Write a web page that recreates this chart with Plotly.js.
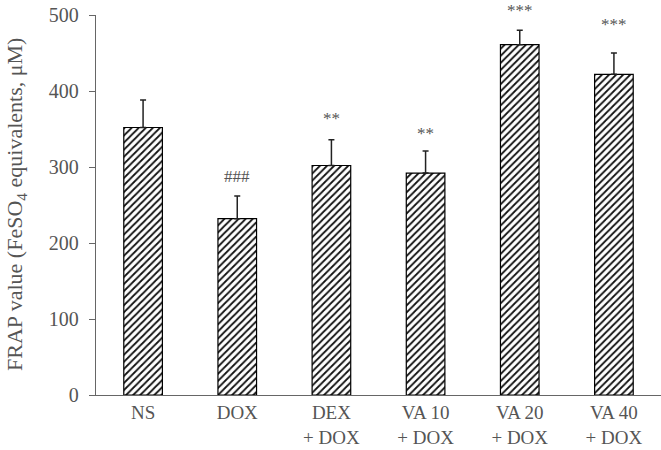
<!DOCTYPE html>
<html><head><meta charset="utf-8">
<script src="https://cdn.plot.ly/plotly-3.0.1.min.js"></script>
<style>html,body{margin:0;padding:0;background:#fff}</style>
</head><body><div id="chart" style="width:661px;height:450px"></div>
<script>
const categories = ["NS", "DOX", "DEX<br>+ DOX", "VA 10<br>+ DOX", "VA 20<br>+ DOX", "VA 40<br>+ DOX"];
const values = [352, 232, 302, 292, 461, 422];
const errors = [36, 30, 34, 29, 19, 28];
const marks = ["", "###", "**", "**", "***", "***"];
const markY = [0, 287, 364, 344, 506, 487];
const yMax = 500;
const yTitle = "FRAP value (FeSO<sub>4</sub> equivalents, μM)";

const trace = {
  type: "bar",
  x: categories,
  y: values,
  marker: {
    color: "#ffffff",
    line: {color: "#000000", width: 1.2},
    pattern: {shape: "/", fgcolor: "#111111", bgcolor: "#ffffff", size: 5, solidity: 0.36}
  },
  width: 0.41,
  error_y: {type: "data", symmetric: false, array: errors, arrayminus: errors.map(() => 0),
            color: "#222", thickness: 1.5, width: 3},
  hoverinfo: "skip"
};

const annotations = [];
categories.forEach((c, i) => {
  if (marks[i]) annotations.push({
    x: c, y: markY[i] / yMax, xref: "x", yref: "paper", text: marks[i], showarrow: false,
    font: {family: "Liberation Serif", size: 17, color: "#555"}, yanchor: "middle"
  });
});
annotations.push({
  x: -(96 - 16) / 565, y: 0.5, xref: "paper", yref: "paper", text: yTitle, textangle: -90,
  showarrow: false, xanchor: "center", yanchor: "middle",
  font: {family: "Liberation Serif", size: 22, color: "#555"}
});

const layout = {
  width: 661, height: 450,
  margin: {l: 96, r: 0, t: 15, b: 55},
  paper_bgcolor: "#fff", plot_bgcolor: "#fff",
  showlegend: false,
  font: {family: "Liberation Serif", size: 19, color: "#555"},
  xaxis: {
    showline: true, linecolor: "#666", linewidth: 1.3, ticks: "", showgrid: false,
    tickfont: {family: "Liberation Serif", size: 19, color: "#555"}, fixedrange: true
  },
  yaxis: {
    range: [0, yMax], dtick: 100, showline: true, linecolor: "#666", linewidth: 1.3,
    ticks: "outside", ticklen: 6, tickcolor: "#666", showgrid: false, zeroline: false,
    ticklabelstandoff: 6,
    tickfont: {family: "Liberation Serif", size: 20, color: "#555"}
  },
  annotations: annotations
};

Plotly.newPlot("chart", [trace], layout, {displayModeBar: false, staticPlot: true});
</script></body></html>
